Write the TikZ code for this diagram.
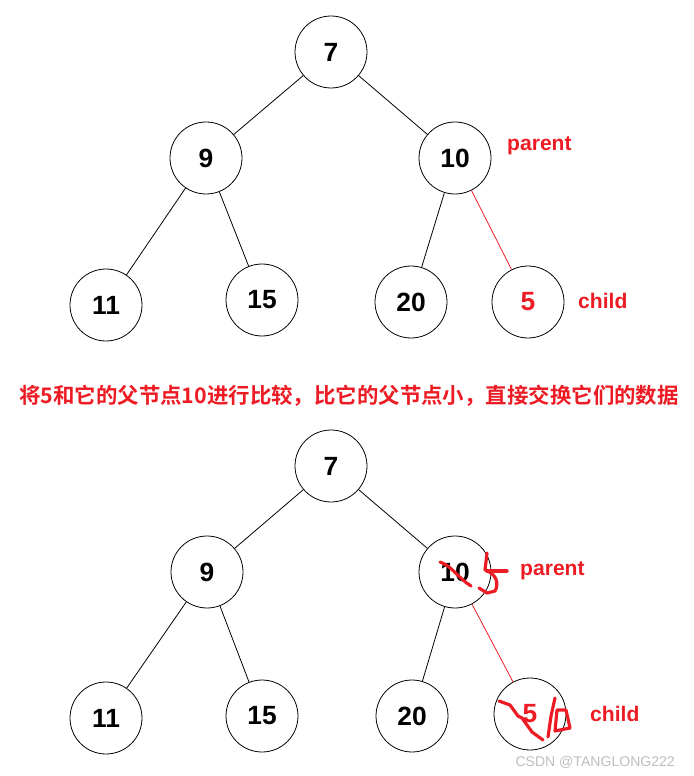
\documentclass[tikz,border=0pt]{standalone}
\usepackage{fontspec}
\setmainfont{Liberation Sans}
\newfontfamily\cjk{Noto Sans CJK SC}[BoldFont={Noto Sans CJK SC Bold}]
\usetikzlibrary{calc}

\definecolor{hotred}{RGB}{237,28,36}
\definecolor{markgray}{RGB}{190,190,190}

\tikzset{
	heapnode/.style={circle, draw, line width=0.45pt, minimum size=1.44cm, inner sep=0pt,
		font=\fontsize{15}{17}\selectfont\bfseries},
	tag/.style={text=hotred, font=\fontsize{12}{14}\selectfont\bfseries, anchor=west},
	pen/.style={hotred, line width=1.8pt, line cap=round, line join=round}
}

\begin{document}
\begin{tikzpicture}[x=0.02cm, y=-0.02cm]
	\useasboundingbox (0,0) rectangle (693,776);
	
	% before the swap
	\node[heapnode] (a7) at (331,52) {7};
	\node[heapnode] (a9) at (206,158) {9};
	\node[heapnode] (a10) at (455,158) {10};
	\node[heapnode] (a11) at (106,305) {11};
	\node[heapnode] (a15) at (262,300) {15};
	\node[heapnode] (a20) at (411,302) {20};
	\node[heapnode, text=hotred] (a5) at (528,302) {5};
	\draw[line width=0.45pt] (a7) -- (a9) (a7) -- (a10);
	\draw[line width=0.45pt] (a9) -- (a11) (a9) -- (a15);
	\draw[line width=0.45pt] (a10) -- (a20);
	\draw[hotred, line width=0.45pt] (a10) -- (a5);
	\node[tag] (aparent) at (501,146) {parent};
	\node[tag] (achild) at (572,301) {child};
	
	\node[text=hotred, font=\cjk\fontsize{12.2}{14}\selectfont\bfseries] (msg) at (349,396)
		{将5和它的父节点10进行比较，比它的父节点小，直接交换它们的数据};
	
	% after the swap
	\node[heapnode] (b7) at (331,466) {7};
	\node[heapnode] (b9) at (207,572) {9};
	\node[heapnode] (b10) at (455,572) {10};
	\node[heapnode] (b11) at (106,718) {11};
	\node[heapnode] (b15) at (262,716) {15};
	\node[heapnode] (b20) at (412,716) {20};
	\node[heapnode, text=hotred] (b5) at (530,714) {5};
	\draw[line width=0.45pt] (b7) -- (b9) (b7) -- (b10);
	\draw[line width=0.45pt] (b9) -- (b11) (b9) -- (b15);
	\draw[line width=0.45pt] (b10) -- (b20);
	\draw[hotred, line width=0.45pt] (b10) -- (b5);
	\node[tag] (bparent) at (514,571) {parent};
	\node[tag] (bchild) at (584,714) {child};
	
	% hand-drawn corrections
	\draw[pen] (440,562) .. controls (452,566) and (458,578) .. (471,586);
	\draw[pen] (487,553) -- (485,570) .. controls (497,574) and (499,584) .. (495,591) -- (487,593) -- (479,588);
	\draw[pen] (487,571) -- (507,571);
	\draw[pen] (499,701) -- (510,705) -- (518,716) -- (522,718) -- (532,732) -- (543,740);
	\draw[pen] (555,698) -- (551,716) -- (548,737);
	\draw[pen] (557,710) -- (566,710) -- (570,728) -- (555,731) -- cycle;
	
	\node[text=markgray, font=\fontsize{8}{9}\selectfont, anchor=east] (mark) at (681,762) {CSDN @TANGLONG222};
\end{tikzpicture}
\end{document}
